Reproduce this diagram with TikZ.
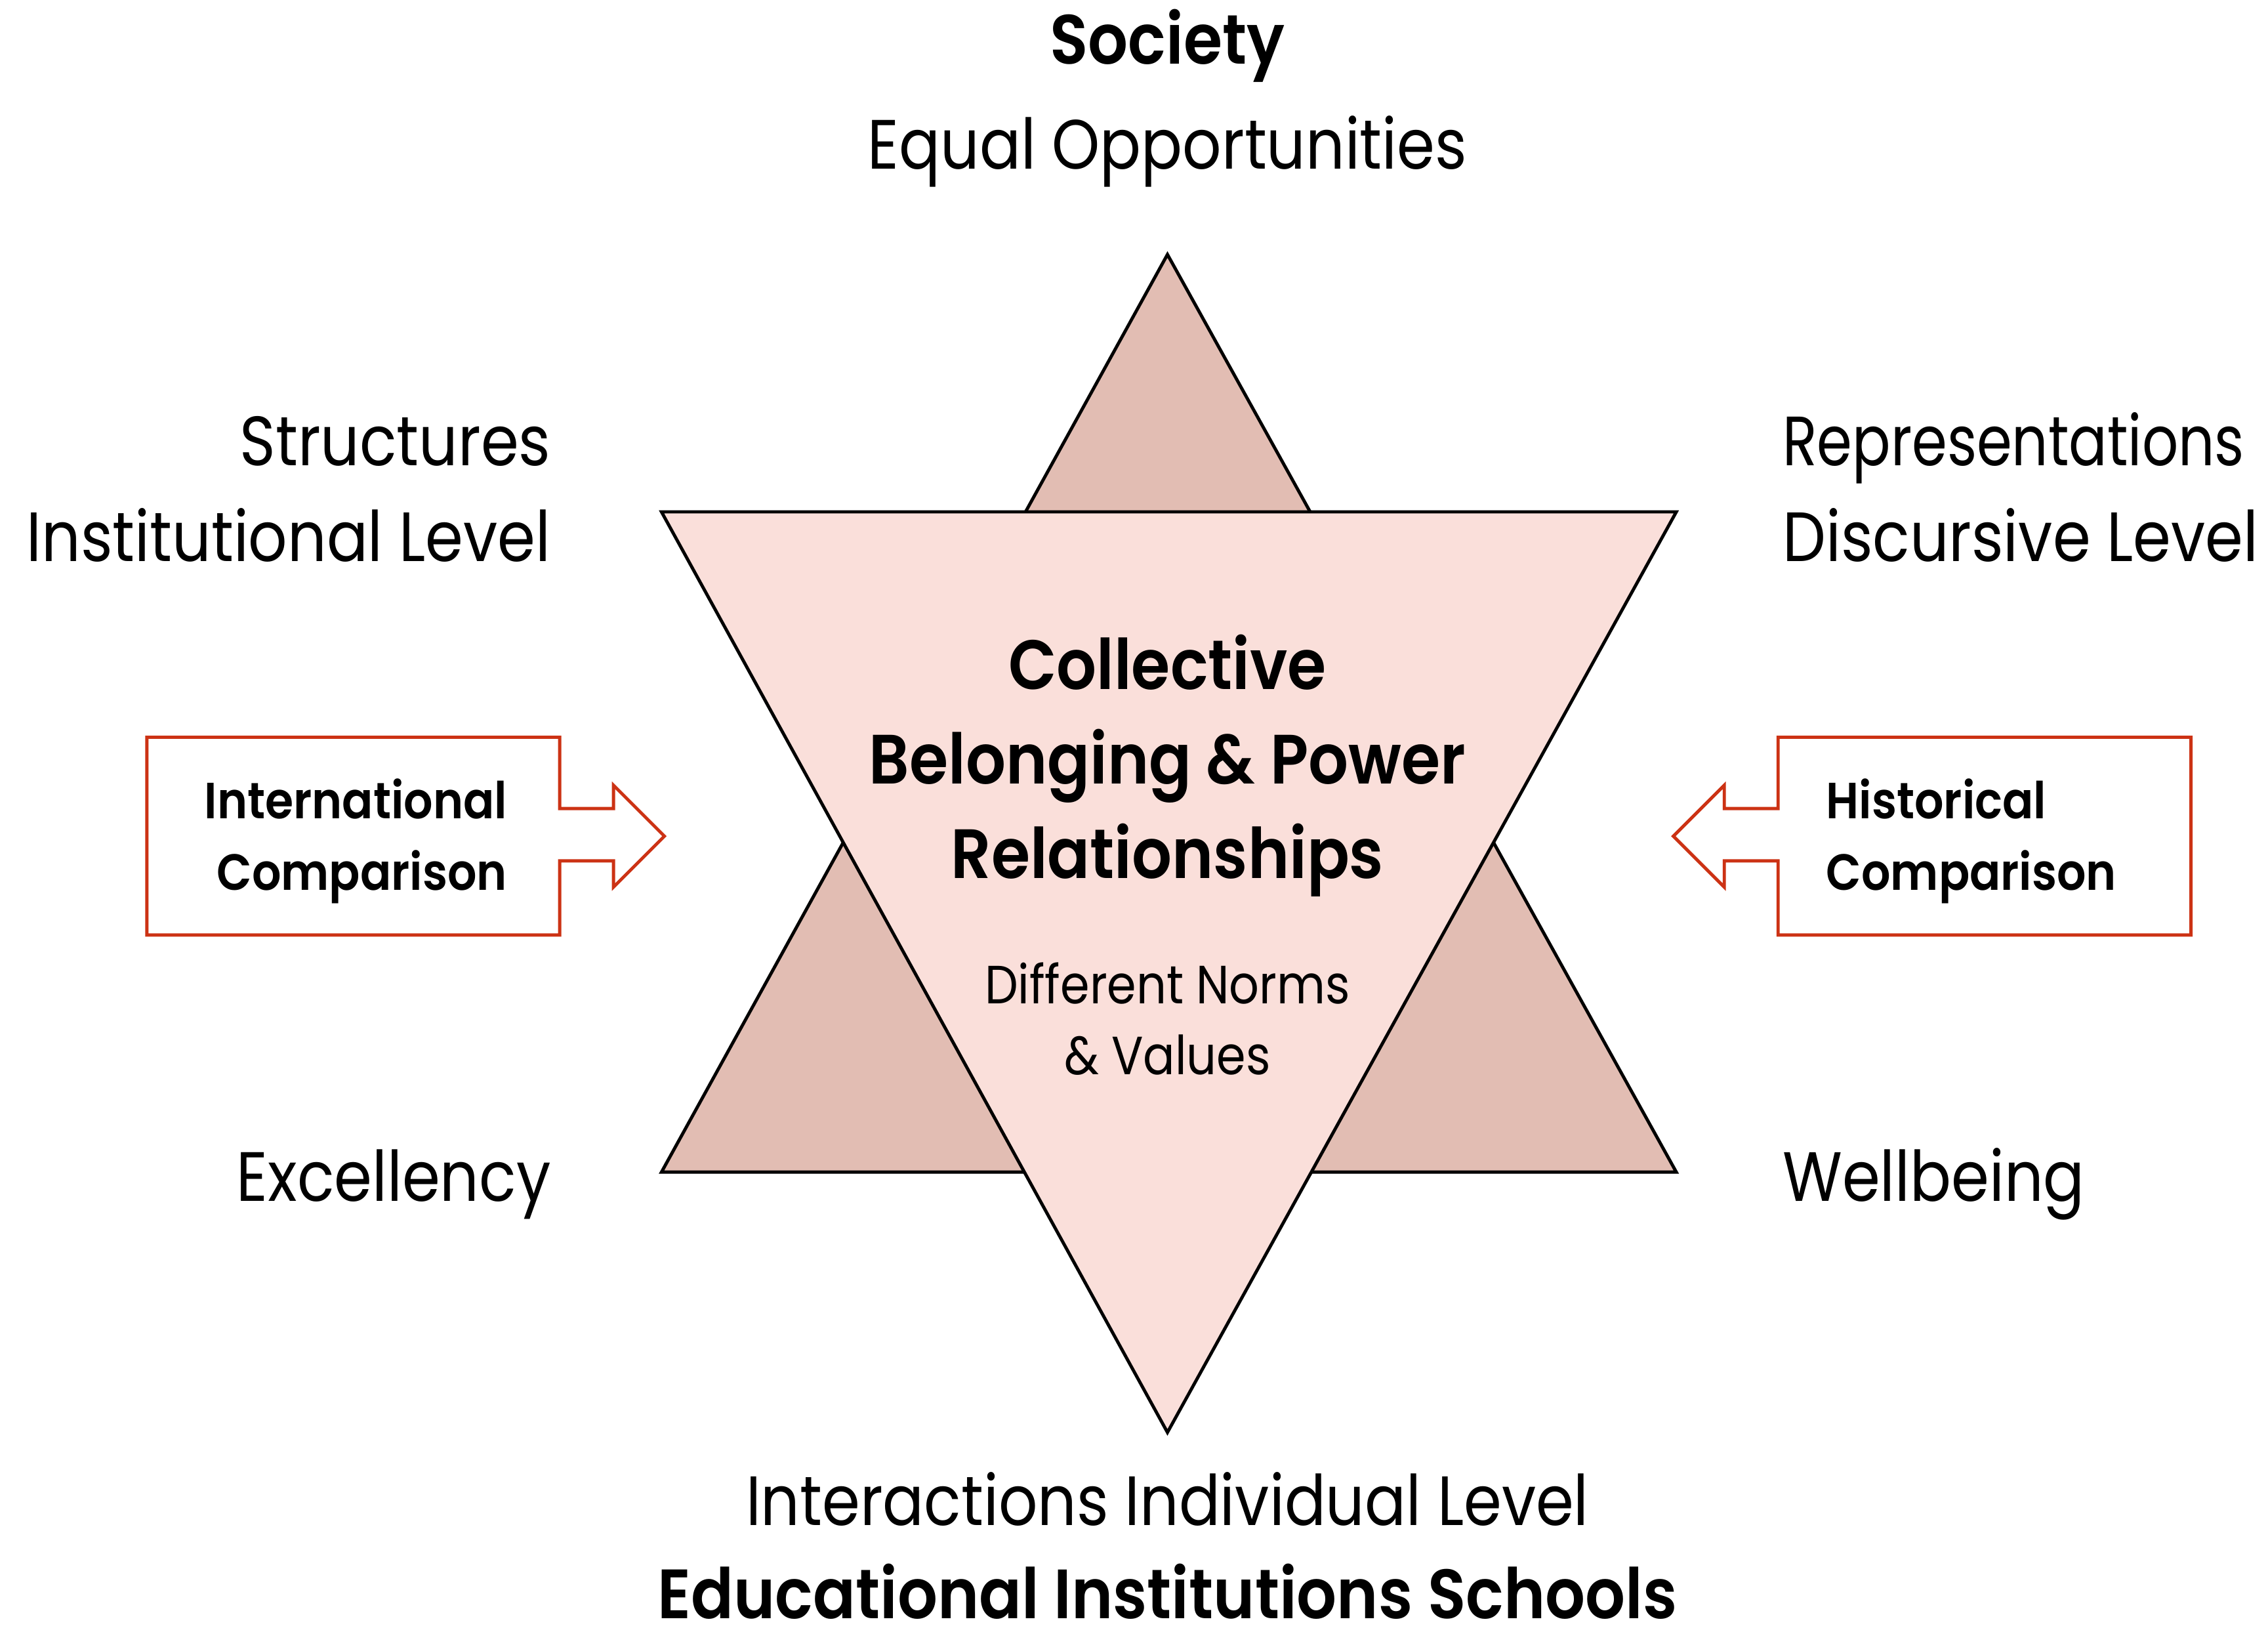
\documentclass[tikz,border=0pt]{standalone}
\usepackage{fontspec}
\setmainfont[FakeStretch=0.875,BoldFont={Poppins SemiBold},BoldFeatures={FakeStretch=0.9}]{Poppins}
\usepackage{graphicx}
\usepackage{tikz}

\definecolor{upfill}{RGB}{226,189,179}
\definecolor{downfill}{RGB}{250,223,218}
\definecolor{boxred}{RGB}{204,50,20}

\begin{document}
\begin{tikzpicture}[x=1pt,y=-1pt,
    lbl/.style={inner sep=0pt,anchor=base,font=\fontsize{48}{58}\selectfont},
    lblb/.style={lbl,font=\fontsize{48}{58}\selectfont\bfseries},
    small/.style={inner sep=0pt,anchor=base,font=\fontsize{37}{44}\selectfont},
    boxtxt/.style={inner sep=0pt,anchor=base,font=\fontsize{35}{42}\selectfont\bfseries},
    tri/.style={draw=black,line width=2.2pt,line join=miter},
    arr/.style={draw=boxred,line width=2.2pt,fill=white}]
      \useasboundingbox (0,0) rectangle (1560,1122);

      % star
      \draw[tri,fill=upfill] (803,175) -- (1153,806) -- (455,806) -- cycle;
      \draw[tri,fill=downfill] (455,352) -- (1153,352) -- (803,985) -- cycle;

      % arrows
      \draw[arr] (101,507) -- (385,507) -- (385,556) -- (422,556) -- (422,540) -- (457,575)
        -- (422,610) -- (422,592) -- (385,592) -- (385,643) -- (101,643) -- cycle;
      \draw[arr] (1507,507) -- (1223,507) -- (1223,556) -- (1186,556) -- (1186,540) -- (1151,575)
        -- (1186,610) -- (1186,592) -- (1223,592) -- (1223,643) -- (1507,643) -- cycle;

      \node[lblb] (soc) at (803,44) {Society};
      \node[lbl] (eq) at (803,116) {Equal Opportunities};
      \node[lbl,anchor=base east] (str) at (379,320) {Structures};
      \node[lbl,anchor=base east] (inst) at (379,386) {Institutional Level};
      \node[lbl,anchor=base west] (rep) at (1226,320) {\scalebox{0.93}[1]{Representations}};
      \node[lbl,anchor=base west] (disc) at (1226,386) {Discursive Level};
      \node[lbl,anchor=base east] (exc) at (379,826) {Excellency};
      \node[lbl,anchor=base west] (well) at (1226,826) {Wellbeing};
      \node[lbl] (inter) at (803,1049) {Interactions Individual Level};
      \node[lblb] (edu) at (803,1113) {Educational Institutions Schools};

      \node[lblb] (c1) at (803,474) {Collective};
      \node[lblb] (c2) at (803,539) {Belonging \& Power};
      \node[lblb] (c3) at (803,604) {Relationships};
      \node[small] (n1) at (803,690) {Different Norms};
      \node[small] (n2) at (803,739) {\& Values};

      \node[boxtxt,anchor=base east] (int1) at (349,563) {International};
      \node[boxtxt,anchor=base east] (int2) at (349,612) {Comparison};
      \node[boxtxt,anchor=base west] (his1) at (1256,563) {Historical};
      \node[boxtxt,anchor=base west] (his2) at (1256,612) {Comparison};
    \end{tikzpicture}
\end{document}
